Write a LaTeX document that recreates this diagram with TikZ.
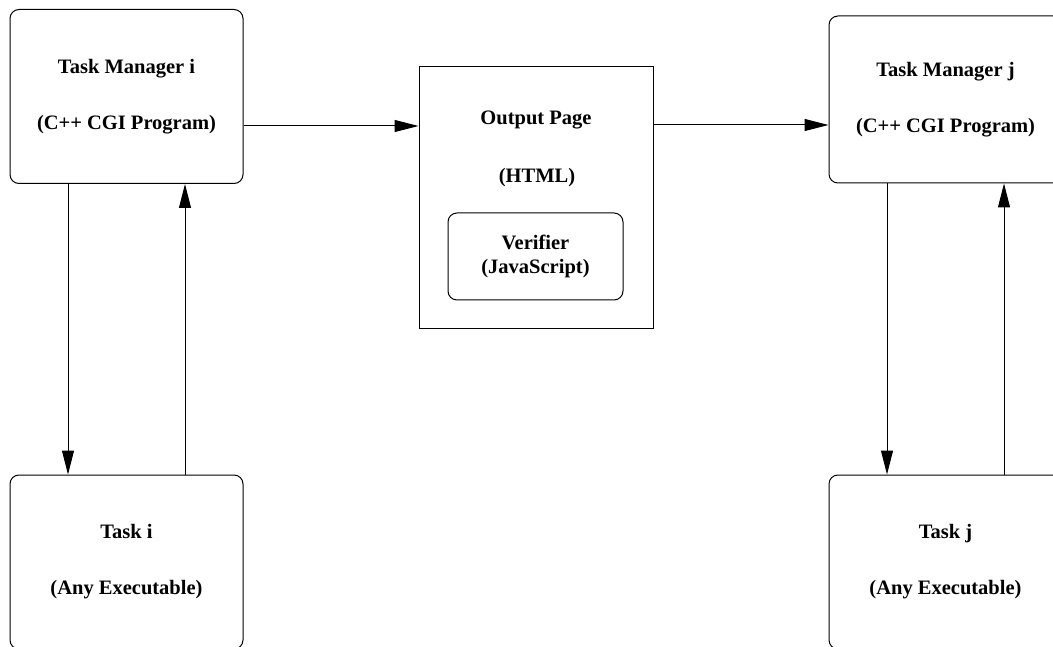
\documentclass[tikz,border=0pt]{standalone}
\usepackage{fontspec}
\setmainfont{Liberation Serif}
\usepackage{tikz}
\usetikzlibrary{arrows.meta, positioning}

\begin{document}
\begin{tikzpicture}[x=1pt, y=-1pt, line width=1pt,
    font=\fontsize{20.5}{24}\selectfont\bfseries,
    rbox/.style={rectangle, rounded corners=9pt, draw, inner sep=0pt, align=center, minimum width=233pt, minimum height=174pt},
    pbox/.style={rectangle, draw, inner sep=0pt, minimum width=234pt, minimum height=262pt},
    label/.style={inner sep=0pt},
    >={Triangle[length=24pt, width=12pt]}]

        \clip (0,0) rectangle (1053,647);

        \node[rbox] (TMi) at (126.5,96.5) {Task Manager i\\[32pt](C++ CGI Program)};
        \node[rbox, minimum height=167pt] (TMj) at (945.5,99.5) {Task Manager j\\[32pt](C++ CGI Program)};
        \node[rbox] (Ti) at (126.5,562) {Task i\\[32pt](Any Executable)};
        \node[rbox] (Tj) at (945.5,562) {Task j\\[32pt](Any Executable)};
        \node[pbox] (Out) at (536,198) {};
        \node[label] (OutName) at (536,120) {Output Page};
        \node[label] (OutHtml) at (537,178) {(HTML)};
        \node[rbox, minimum width=175pt, minimum height=87pt] (Ver) at (535.5,256.5) {Verifier\\(JavaScript)};

        \coordinate (A1) at ([yshift=-29.5pt]TMi.east);
        \coordinate (A2) at ([yshift=73pt]Out.east);
        \path[->]
        (A1) edge (Out.west |- A1)
        (A2) edge (TMj.west |- A2)
        ([xshift=-58.5pt]TMi.south) edge ([xshift=-58.5pt]Ti.north)
        ([xshift=58.5pt]Ti.north) edge ([xshift=58.5pt]TMi.south)
        ([xshift=-58.5pt]TMj.south) edge ([xshift=-58.5pt]Tj.north)
        ([xshift=58.5pt]Tj.north) edge ([xshift=58.5pt]TMj.south)
        ;

    \end{tikzpicture}
\end{document}
